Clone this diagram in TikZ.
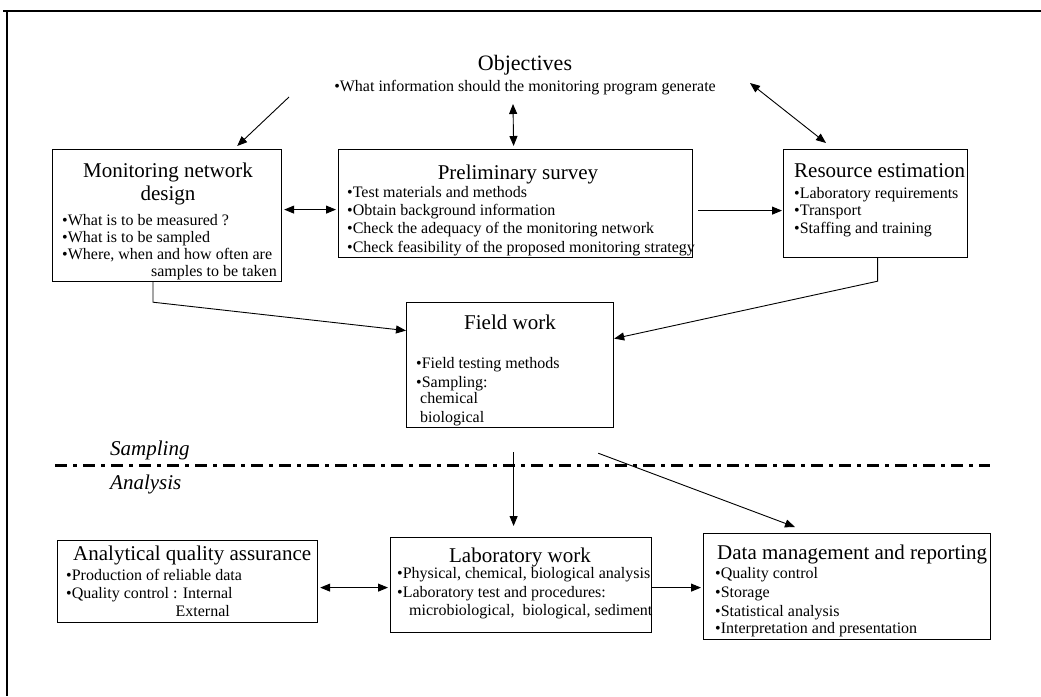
\documentclass[tikz,border=0pt]{standalone}
\usepackage{fontspec}
\setmainfont{Liberation Serif}
\usetikzlibrary{arrows.meta}

\tikzset{
  box/.style={draw, line width=1.2pt, inner sep=0pt, anchor=north west},
  txt/.style={inner sep=0pt, anchor=base west, font=\fontsize{16}{17}\selectfont},
  ttl/.style={inner sep=0pt, anchor=base west, font=\fontsize{21}{23}\selectfont},
  ctl/.style={inner sep=0pt, anchor=base, font=\fontsize{21}{23}\selectfont},
  lane/.style={inner sep=0pt, anchor=base west, font=\fontsize{21}{23}\selectfont\itshape},
  conn/.style={line width=0.9pt},
  arr/.style={conn, -{Triangle[length=10pt,width=8pt]}},
  dbl/.style={conn, {Triangle[length=10pt,width=8pt]}-{Triangle[length=10pt,width=8pt]}},
  divider/.style={line width=3pt, dash pattern=on 12pt off 6pt on 4pt off 6pt}
}

\begin{document}
\begin{tikzpicture}[x=1pt, y=-1pt]
\useasboundingbox (0,0) rectangle (1041,696);

% page frame
\draw[line width=1.4pt] (3,11) -- (1041,11);
\draw[line width=1.2pt] (7,11) -- (7,696);

% objectives
\node[ctl, font=\fontsize{22}{24}\selectfont] (objT) at (525,70) {Objectives};
\node[inner sep=0pt, anchor=base, font=\fontsize{16}{17}\selectfont] (objS) at (525,91)
  {•What information should the monitoring program generate};

% boxes
\node[box, minimum width=229pt, minimum height=132pt] (mon) at (52,149) {};
\node[box, minimum width=354pt, minimum height=108pt] (pre) at (338,149) {};
\node[box, minimum width=184pt, minimum height=108pt] (res) at (783,149) {};
\node[box, minimum width=207pt, minimum height=125pt] (fld) at (406,302) {};
\node[box, minimum width=260pt, minimum height=82pt]  (aqa) at (57,540) {};
\node[box, minimum width=261pt, minimum height=95pt]  (lab) at (390,537) {};
\node[box, minimum width=287pt, minimum height=106pt] (dat) at (703,533) {};

% monitoring network design
\node[ctl] (monT1) at (168,177) {Monitoring network};
\node[ctl] (monT2) at (168,200) {design};
\node[txt] (mon1) at (62,225) {•What is to be measured ?};
\node[txt] (mon2) at (62,242) {•What is to be sampled};
\node[txt] (mon3) at (62,259) {•Where, when and how often are};
\node[txt, anchor=base east] (mon4) at (277,276) {samples to be taken};

% preliminary survey
\node[ctl] (preT) at (518,179) {Preliminary survey};
\node[txt] (pre1) at (347,197) {•Test materials and methods};
\node[txt] (pre2) at (347,215) {•Obtain background information};
\node[txt] (pre3) at (347,233) {•Check the adequacy of the monitoring network};
\node[txt] (pre4) at (347,252) {•Check feasibility of the proposed monitoring strategy};

% resource estimation
\node[ttl] (resT) at (794,177) {Resource estimation};
\node[txt] (res1) at (794,198) {•Laboratory requirements};
\node[txt] (res2) at (794,215) {•Transport};
\node[txt] (res3) at (794,233) {•Staffing and training};

% field work
\node[ctl] (fldT) at (510,329) {Field work};
\node[txt] (fld1) at (416,368) {•Field testing methods};
\node[txt] (fld2) at (416,387) {•Sampling:};
\node[txt] (fld3) at (420,403) {chemical};
\node[txt] (fld4) at (420,422) {biological};

% sampling / analysis divider
\node[lane] (samp) at (110,455) {Sampling};
\node[lane] (anal) at (110,489) {Analysis};
\coordinate (divL) at (55,465);
\coordinate (divR) at (990,465);
\draw[divider] (divL) -- (divR);

% analytical quality assurance
\node[ttl] (aqaT) at (73,560) {Analytical quality assurance};
\node[txt] (aqa1) at (66,580) {•Production of reliable data};
\node[txt] (aqa2) at (66,598) {•Quality control : Internal};
\node[txt, anchor=base east] (aqa3) at (230,616) {External};

% laboratory work
\node[ctl] (labT) at (520,562) {Laboratory work};
\node[txt] (lab1) at (397,578) {•Physical, chemical, biological analysis};
\node[txt] (lab2) at (397,597) {•Laboratory test and procedures:};
\node[txt] (lab3) at (409,615) {microbiological,\ \ biological, sediment};

% data management and reporting
\node[ttl] (datT) at (717,559) {Data management and reporting};
\node[txt] (dat1) at (715,578) {•Quality control};
\node[txt] (dat2) at (715,597) {•Storage};
\node[txt] (dat3) at (715,616) {•Statistical analysis};
\node[txt] (dat4) at (715,633) {•Interpretation and presentation};

% connectors from the objectives
\coordinate (oL) at (289,97);
\coordinate (oM) at (513,104);
\coordinate (oR) at (750,83);
\draw[arr] (oL) -- ([xshift=-45pt,yshift=3pt]mon.north east);
\draw[dbl] (oM) -- ([xshift=-2pt,yshift=3pt]pre.north);
\draw[dbl] (oR) -- ([xshift=43pt,yshift=6pt]res.north west);

% upper row
\draw[dbl, shorten <=2pt, shorten >=2pt] ([yshift=6pt]mon.east) -- ([yshift=-6pt]pre.west);
\draw[arr, shorten <=5pt, shorten >=1pt] ([yshift=-7pt]pre.east) -- ([yshift=-7pt]res.west);

% into the field work
\draw[arr] ([xshift=101pt]mon.south west) -- ++(0,20) -- ([yshift=34.5pt]fld.west);
\draw[arr] ([xshift=2pt]res.south) -- ++(0,23) -- ([yshift=26.5pt]fld.east);

% from the field work to the analysis row
\draw[arr] ([xshift=3.5pt,yshift=-24pt]fld.south) -- ([xshift=-7.5pt,yshift=11pt]lab.north);
\draw[arr] ([xshift=-16pt,yshift=-25pt]fld.south east) -- ([xshift=92pt,yshift=6pt]dat.north west);

% lower row
\draw[dbl, shorten <=2pt, shorten >=2pt] ([yshift=-6pt]aqa.east) -- ([yshift=-2.5pt]lab.west);
\draw[arr, shorten >=2pt] ([yshift=-2.5pt]lab.east) -- ([yshift=-1pt]dat.west);
\end{tikzpicture}
\end{document}
